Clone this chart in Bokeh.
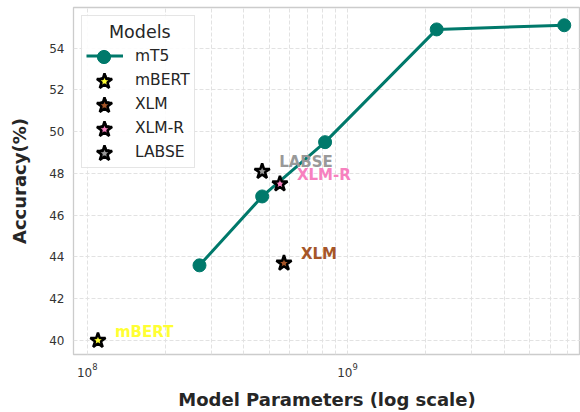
from bokeh.plotting import figure
from bokeh.models import Range1d, FixedTicker, Legend, LegendItem, ColumnDataSource
from bokeh.core.properties import value
from bokeh.embed import file_html
from bokeh.resources import INLINE

# mT5 series
mt5_params = [2.7e8, 4.7e8, 8.2e8, 2.2e9, 6.8e9]
mt5_acc = [43.6, 46.9, 49.5, 54.9, 55.1]

# single models
models = ["mBERT", "XLM", "XLM-R", "LABSE"]
model_params = [1.1e8, 5.7e8, 5.5e8, 4.7e8]
model_acc = [40.0, 43.7, 47.5, 48.1]
model_colors = ["#ffff33", "#a65628", "#f781bf", "#999999"]

# ticks
x_major = [1e8, 1e9]
x_minor = [2e8, 3e8, 4e8, 5e8, 6e8, 7e8, 8e8, 9e8, 2e9, 3e9, 4e9, 5e9, 6e9, 7e9, 8e9, 9e9]
y_ticks = [40, 42, 44, 46, 48, 50, 52, 54]

FONT = "DejaVu Sans"
TEAL = "#00796b"

p = figure(width=580, height=412, x_axis_type="log",
           x_range=Range1d(8.86e7, 7.85e9), y_range=Range1d(39.33, 55.95),
           output_backend="svg", toolbar_location=None,
           min_border_left=73, min_border_right=0, min_border_top=7, min_border_bottom=58)

p.background_fill_color = "white"
p.border_fill_color = "white"
p.outline_line_color = "#cccccc"
p.outline_line_width = 1.3

p.xaxis.ticker = FixedTicker(ticks=x_major, minor_ticks=x_minor)
p.yaxis.ticker = FixedTicker(ticks=y_ticks)

for ax in (p.xaxis[0], p.yaxis[0]):
    ax.axis_line_color = None
    ax.major_tick_line_color = None
    ax.minor_tick_line_color = None
    ax.major_tick_out = 0
    ax.major_tick_in = 0
    ax.minor_tick_out = 0
    ax.major_label_text_font = FONT
    ax.major_label_text_font_size = "12px"
    ax.major_label_text_color = "#333333"
    ax.axis_label_text_font = FONT
    ax.axis_label_text_font_size = "18px"
    ax.axis_label_text_font_style = "bold"
    ax.axis_label_text_color = "#262626"

p.xaxis.axis_label = "Model Parameters (log scale)"
p.yaxis.axis_label = "Accuracy(%)"
p.xaxis.major_label_standoff = 8
p.xaxis.axis_label_standoff = 9
p.yaxis.major_label_standoff = 9
p.yaxis.axis_label_standoff = 16

p.xgrid.grid_line_color = "#e2e2e2"
p.xgrid.grid_line_dash = "4 2"
p.xgrid.minor_grid_line_color = "#e2e2e2"
p.xgrid.minor_grid_line_dash = "4 2"
p.ygrid.grid_line_color = "#e2e2e2"
p.ygrid.grid_line_dash = "4 2"

line = p.line(mt5_params, mt5_acc, line_color=TEAL, line_width=3)
dots = p.scatter(mt5_params, mt5_acc, marker="circle", size=13, fill_color=TEAL, line_color=TEAL)

src = ColumnDataSource(dict(x=model_params, y=model_acc, name=models, color=model_colors))
star_renderers = []
for i in range(len(models)):
    s = ColumnDataSource(dict(x=[model_params[i]], y=[model_acc[i]]))
    r = p.scatter("x", "y", source=s, marker="star", size=16, fill_color=model_colors[i],
                  line_color="black", line_width=2.5)
    star_renderers.append(r)

p.text("x", "y", text="name", source=src, text_color="color", x_offset=17, y_offset=-9,
       text_baseline="middle", text_align="left", text_font=value(FONT),
       text_font_style="bold", text_font_size="15px")

# main legend: box, labels (title space reserved, title drawn centred by a second legend)
item_renderers = [[line, dots]] + [[r] for r in star_renderers]
item_labels = ["mT5"] + models
items = [LegendItem(label=lab, renderers=rs) for lab, rs in zip(item_labels, item_renderers)]

legend = Legend(items=items, location="top_left", title=" ")
legend.title_text_font = FONT
legend.title_text_font_size = "17px"
legend.title_standoff = 4
legend.label_text_font = FONT
legend.label_text_font_size = "15.5px"
legend.label_text_color = "#262626"
legend.glyph_width = 37
legend.glyph_height = 23
legend.label_height = 23
legend.spacing = 1
legend.padding = 4
legend.label_standoff = 12
legend.margin = 8
legend.border_line_color = "#cccccc"
legend.border_line_width = 1
legend.background_fill_color = "white"
legend.background_fill_alpha = 0.9
p.add_layout(legend)

# overlay legends that draw the markers at full size
frame_bottom = 353
first_center = 55.5
step = 24
glyph_cx = 103.5
for i, rs in enumerate(item_renderers):
    gh = 33 if i == 0 else 40
    gw = 37 if i == 0 else 40
    marker_rs = [dots] if i == 0 else rs
    cy = first_center + step * i
    ov = Legend(items=[LegendItem(label="", renderers=marker_rs)],
                location=(glyph_cx - gw / 2 - 73, frame_bottom - (cy + gh / 2)),
                glyph_width=gw, glyph_height=gh, label_height=gh, padding=0, margin=0,
                label_standoff=0, spacing=0, border_line_color=None,
                background_fill_alpha=0, label_text_font_size="1px")
    p.add_layout(ov)

# centred legend title, drawn on top of the legend box
title_leg = Legend(items=[LegendItem(label="", renderers=[])], title="Models",
                   location=(36, 311), glyph_width=1, glyph_height=1, label_height=1,
                   padding=0, margin=0, label_standoff=0, spacing=0, title_standoff=0,
                   border_line_color=None, background_fill_alpha=0,
                   label_text_font_size="1px", title_text_font=FONT,
                   title_text_font_size="17.5px", title_text_font_style="normal",
                   title_text_color="#262626")
p.add_layout(title_leg)

open("out.html", "w").write(file_html(p, INLINE))
